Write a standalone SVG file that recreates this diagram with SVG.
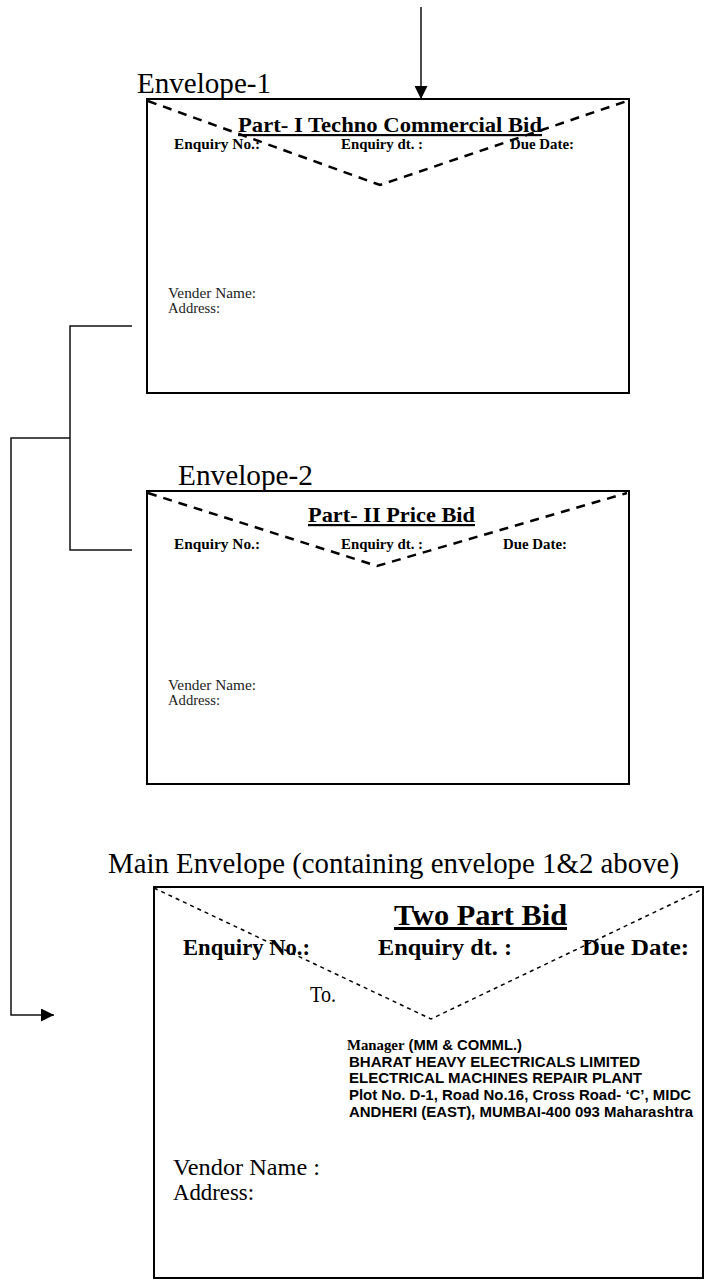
<svg xmlns="http://www.w3.org/2000/svg" width="706" height="1281" viewBox="0 0 706 1281">
<defs>
<marker id="ah" viewBox="0 0 10 10" refX="10" refY="5" markerWidth="10" markerHeight="10" markerUnits="userSpaceOnUse" orient="auto">
<path d="M0,0 L10,5 L0,10 z" fill="#000"/>
</marker>
<marker id="ahBig" viewBox="0 0 10 10" refX="10" refY="5" markerWidth="14" markerHeight="13" markerUnits="userSpaceOnUse" orient="auto">
<path d="M0,0 L10,5 L0,10 z" fill="#000"/>
</marker>
</defs>
<style>
.box{fill:#fff;stroke:#000;stroke-width:2}
.flap{fill:none;stroke:#000;stroke-width:2.5;stroke-dasharray:9 7}
.flapThin{fill:none;stroke:#000;stroke-width:1.5;stroke-dasharray:4 4}
.lbl{font-family:"Liberation Serif",serif;font-size:29px;fill:#000}
.title{font-family:"Liberation Serif",serif;font-weight:bold;font-size:22px;fill:#000;text-decoration:underline}
.fld{font-family:"Liberation Serif",serif;font-weight:bold;font-size:15px;fill:#000}
.vend{font-family:"Liberation Serif",serif;font-size:15px;fill:#222}
.mfld{font-family:"Liberation Serif",serif;font-weight:bold;font-size:23px;fill:#000}
.mtxt{font-family:"Liberation Serif",serif;font-size:23px;fill:#000}
.addr{font-family:"Liberation Sans",Arial,sans-serif;font-weight:bold;font-size:14px;fill:#000}
.conn{fill:none;stroke:#111;stroke-width:1.5}
</style>

<g id="connectors">
<line class="conn" x1="421" y1="7" x2="421" y2="99" stroke-width="2" marker-end="url(#ahBig)"/>
<polyline class="conn" points="132,326 70,326 70,550 132,550"/>
<polyline class="conn" points="70,438 11,438 11,1015 54,1015" marker-end="url(#ahBig)"/>
</g>

<g id="envelope-1">
<text class="lbl" x="137" y="93" textLength="134" lengthAdjust="spacingAndGlyphs">Envelope-1</text>
<rect class="box" x="147" y="99" width="482" height="294"/>
<polyline class="flap" points="148,101 380,185 627,101"/>
<text class="title" x="238" y="132" textLength="304" lengthAdjust="spacingAndGlyphs">Part- I Techno Commercial Bid</text>
<text class="fld" x="174" y="149" textLength="86" lengthAdjust="spacingAndGlyphs">Enquiry No.:</text>
<text class="fld" x="341" y="149" textLength="82" lengthAdjust="spacingAndGlyphs">Enquiry dt. :</text>
<text class="fld" x="510" y="149" textLength="64" lengthAdjust="spacingAndGlyphs">Due Date:</text>
<text class="vend" x="168" y="298" textLength="88" lengthAdjust="spacingAndGlyphs">Vender Name:</text>
<text class="vend" x="168" y="313" textLength="52" lengthAdjust="spacingAndGlyphs">Address:</text>
</g>

<g id="envelope-2">
<text class="lbl" x="178" y="485" textLength="135" lengthAdjust="spacingAndGlyphs">Envelope-2</text>
<rect class="box" x="147" y="491" width="482" height="293"/>
<polyline class="flap" points="148,493 377,566 627,493"/>
<text class="title" x="308" y="522" textLength="167" lengthAdjust="spacingAndGlyphs">Part- II Price Bid</text>
<text class="fld" x="174" y="549" textLength="86" lengthAdjust="spacingAndGlyphs">Enquiry No.:</text>
<text class="fld" x="341" y="549" textLength="82" lengthAdjust="spacingAndGlyphs">Enquiry dt. :</text>
<text class="fld" x="503" y="549" textLength="64" lengthAdjust="spacingAndGlyphs">Due Date:</text>
<text class="vend" x="168" y="690" textLength="88" lengthAdjust="spacingAndGlyphs">Vender Name:</text>
<text class="vend" x="168" y="705" textLength="52" lengthAdjust="spacingAndGlyphs">Address:</text>
</g>

<g id="main-envelope">
<text class="lbl" x="108" y="873" textLength="571" lengthAdjust="spacingAndGlyphs">Main Envelope (containing envelope 1&amp;2 above)</text>
<rect class="box" x="154" y="887" width="549" height="391"/>
<polyline class="flapThin" points="154,888 431,1019 703,889"/>
<text class="title" x="394" y="925" font-size="30" textLength="173" lengthAdjust="spacingAndGlyphs" style="font-size:30px">Two Part Bid</text>
<text class="mfld" x="183" y="955" textLength="127" lengthAdjust="spacingAndGlyphs">Enquiry No.:</text>
<text class="mfld" x="378" y="955" textLength="134" lengthAdjust="spacingAndGlyphs">Enquiry dt. :</text>
<text class="mfld" x="582" y="955" textLength="107" lengthAdjust="spacingAndGlyphs">Due Date:</text>
<text class="mtxt" x="310" y="1002" textLength="26" lengthAdjust="spacingAndGlyphs">To.</text>
<text class="addr" x="347" y="1050" textLength="175" lengthAdjust="spacingAndGlyphs"><tspan font-family="Liberation Serif, serif">Manager</tspan> (MM &amp; COMML.)</text>
<text class="addr" x="349" y="1067" textLength="291" lengthAdjust="spacingAndGlyphs">BHARAT HEAVY ELECTRICALS LIMITED</text>
<text class="addr" x="349" y="1083" textLength="293" lengthAdjust="spacingAndGlyphs">ELECTRICAL MACHINES REPAIR PLANT</text>
<text class="addr" x="349" y="1100" textLength="342" lengthAdjust="spacingAndGlyphs">Plot No. D-1, Road No.16, Cross Road- ‘C’, MIDC</text>
<text class="addr" x="349" y="1117" textLength="344" lengthAdjust="spacingAndGlyphs">ANDHERI (EAST), MUMBAI-400 093 Maharashtra</text>
<text class="mtxt" x="173" y="1175" textLength="147" lengthAdjust="spacingAndGlyphs">Vendor Name  :</text>
<text class="mtxt" x="173" y="1200" textLength="81" lengthAdjust="spacingAndGlyphs">Address:</text>
</g>
</svg>
